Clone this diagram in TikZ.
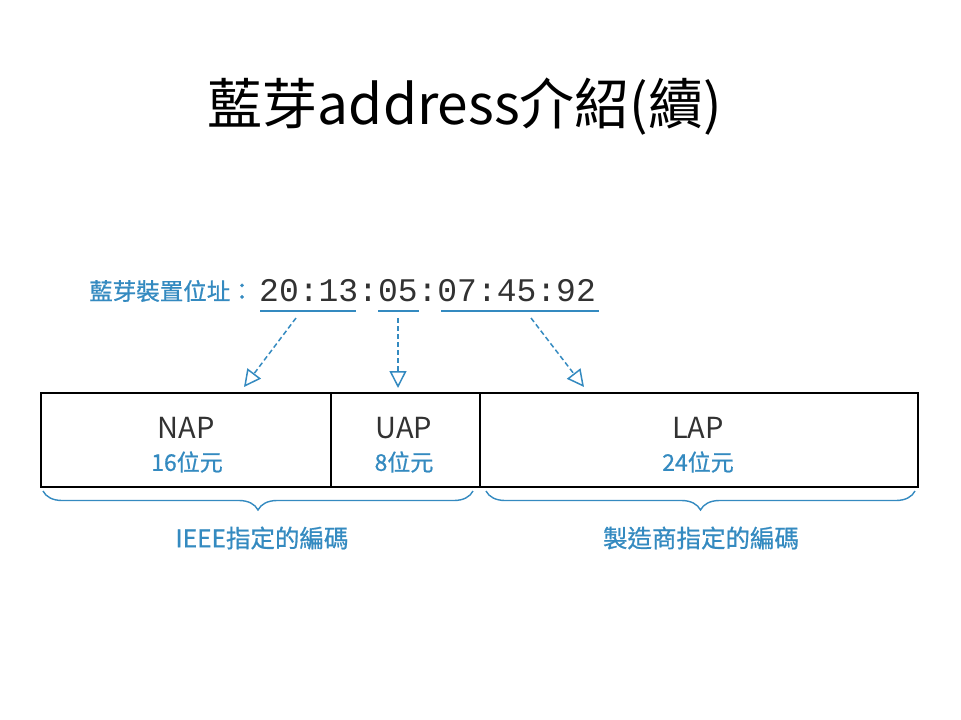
\documentclass[tikz,border=0pt]{standalone}
\usepackage{fontspec}
\setmainfont{Noto Sans CJK TC}
\newfontfamily\monofnt{Liberation Mono}
\newfontfamily\bluefnt[FakeBold=0.8]{Noto Sans CJK TC}
\usetikzlibrary{arrows.meta,decorations.pathreplacing}
\definecolor{bblue}{RGB}{52,138,192}
\definecolor{dgray}{RGB}{50,50,50}
\tikzset{
  titletext/.style={inner sep=0pt,font=\fontsize{55}{62}\selectfont},
  fieldname/.style={inner sep=0pt,text=dgray,font=\fontsize{29}{32}\selectfont},
  bitstext/.style={inner sep=0pt,text=bblue,font=\bluefnt\fontsize{23}{26}\selectfont},
  bluelabel/.style={inner sep=0pt,text=bblue,font=\bluefnt\fontsize{24.5}{28}\selectfont},
  ulinestyle/.style={draw=bblue,line width=1.6pt},
  darrow/.style={draw=bblue,line width=1.5pt,dash pattern=on 5pt off 3pt,
     -{Triangle[open,length=17pt,width=17pt,line width=1.5pt]}},
  bracestyle/.style={draw=bblue,line width=1.4pt,decorate,
     decoration={brace,mirror,amplitude=19pt,aspect=0.5}},
  boxline/.style={draw=black,line width=1.3pt}
}
\begin{document}
\begin{tikzpicture}[x=1pt,y=-1pt]
\useasboundingbox (0,0) rectangle (961,720);
% title
\node[titletext] (title) at (465,107) {藍芽address介紹(續)};
% address line
\node[bluelabel,anchor=east,font=\bluefnt\fontsize{23.5}{27}\selectfont] (addrlabel) at (254,291) {藍芽裝置位址：};
\node[inner sep=0pt,anchor=west,text=dgray,font=\monofnt\fontsize{33}{36}\selectfont] (addr) at (259,291) {20:13:05:07:45:92};
% underlines
\coordinate (u1a) at (260,311); \coordinate (u1b) at (356,311);
\coordinate (u2a) at (378,311); \coordinate (u2b) at (419,311);
\coordinate (u3a) at (441,311); \coordinate (u3b) at (599,311);
\draw[ulinestyle] (u1a) -- (u1b);
\draw[ulinestyle] (u2a) -- (u2b);
\draw[ulinestyle] (u3a) -- (u3b);
% arrows
\coordinate (a1s) at (296,318); \coordinate (a1e) at (244,387);
\coordinate (a2s) at (398,318); \coordinate (a2e) at (398,388);
\coordinate (a3s) at (531,318); \coordinate (a3e) at (584,387);
\draw[darrow] (a1s) -- (a1e);
\draw[darrow] (a2s) -- (a2e);
\draw[darrow] (a3s) -- (a3e);
% box
\coordinate (bTL) at (41,393); \coordinate (bBR) at (918,487);
\draw[boxline] (bTL) rectangle (bBR);
\coordinate (d1t) at (331,393); \coordinate (d1b) at (331,487);
\coordinate (d2t) at (480,393); \coordinate (d2b) at (480,487);
\draw[boxline] (d1t) -- (d1b);
\draw[boxline] (d2t) -- (d2b);
% field texts
\node[fieldname] (nap) at (186,428) {NAP};
\node[bitstext] (napb) at (187,462) {16位元};
\node[fieldname] (uap) at (404,428) {UAP};
\node[bitstext] (uapb) at (404,462) {8位元};
\node[fieldname] (lap) at (698,428) {LAP};
\node[bitstext] (lapb) at (698,462) {24位元};
% braces
\coordinate (br1a) at (43,491); \coordinate (br1b) at (473,491);
\coordinate (br2a) at (486,491); \coordinate (br2b) at (915,491);
\draw[bracestyle] (br1a) -- (br1b);
\draw[bracestyle] (br2a) -- (br2b);
\node[bluelabel] (ieee) at (262,538) {IEEE指定的編碼};
\node[bluelabel] (manu) at (701,538) {製造商指定的編碼};
\end{tikzpicture}
\end{document}
